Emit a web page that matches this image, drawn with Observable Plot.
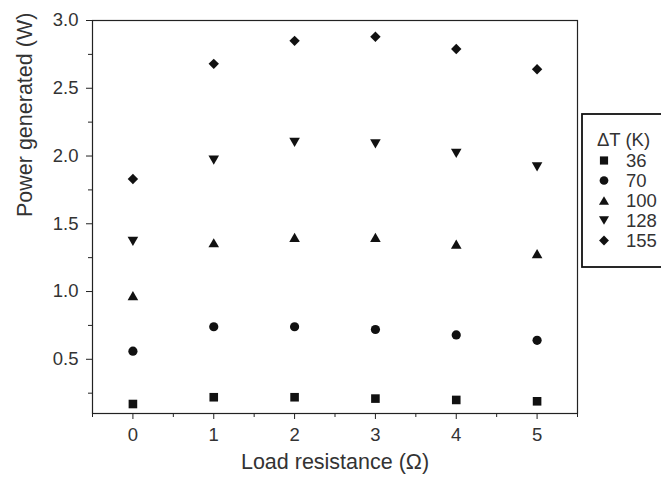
<!DOCTYPE html>
<html>
<head>
<meta charset="utf-8">
<script src="https://cdn.jsdelivr.net/npm/d3@7"></script>
<script src="https://cdn.jsdelivr.net/npm/@observablehq/plot@0.6"></script>
<style>
  html, body { margin: 0; padding: 0; background: #fff; }
</style>
</head>
<body>
<div id="chart"></div>
<script>
// ---- data ----
const loadResistance = [0, 1, 2, 3, 4, 5];
const dT36  = [0.17, 0.22, 0.22, 0.21, 0.20, 0.19];
const dT70  = [0.56, 0.74, 0.74, 0.72, 0.68, 0.64];
const dT100 = [0.97, 1.36, 1.40, 1.40, 1.35, 1.28];
const dT128 = [1.37, 1.97, 2.10, 2.09, 2.02, 1.92];
const dT155 = [1.83, 2.68, 2.85, 2.88, 2.79, 2.64];
const seriesLabels = ["36", "70", "100", "128", "155"];
const legendTitle = "\u0394T (K)";
const xTicks = [0, 1, 2, 3, 4, 5];
const xMinorTicks = [-0.5, 0.5, 1.5, 2.5, 3.5, 4.5, 5.5];
const yTicks = [0.5, 1.0, 1.5, 2.0, 2.5, 3.0];
const yMinorTicks = [0.25, 0.75, 1.25, 1.75, 2.25, 2.75];
const xLabel = "Load resistance (\u03A9)";
const yLabel = "Power generated (W)";

// ---- symbols ----
const symSquare = {draw(c) { const h = 4.3; c.moveTo(-h, -h); c.lineTo(h, -h); c.lineTo(h, h); c.lineTo(-h, h); c.closePath(); }};
const symCircle = {draw(c) { const r = 4.6; c.moveTo(r, 0); c.arc(0, 0, r, 0, 2 * Math.PI); }};
const symTriUp = {draw(c) { const w = 5.3, h = 4.6; c.moveTo(0, -h); c.lineTo(w, h); c.lineTo(-w, h); c.closePath(); }};
const symTriDown = {draw(c) { const w = 5.3, h = 4.6; c.moveTo(0, h); c.lineTo(w, -h); c.lineTo(-w, -h); c.closePath(); }};
const symDiamond = {draw(c) { const d = 5.2; c.moveTo(0, -d); c.lineTo(d, 0); c.lineTo(0, d); c.lineTo(-d, 0); c.closePath(); }};

const seriesValues = [dT36, dT70, dT100, dT128, dT155];
const seriesSymbols = [symSquare, symCircle, symTriUp, symTriDown, symDiamond];

const ink = "#111";
const textColor = "#333";

const dotMarks = seriesValues.map((vals, k) =>
  Plot.dot(loadResistance.map((x, i) => ({x, y: vals[i]})), {
    x: "x", y: "y", symbol: seriesSymbols[k], r: 4.5, fill: ink, stroke: "none"
  })
);

const svg = Plot.plot({
  width: 661,
  height: 482,
  marginLeft: 92,
  marginRight: 84,
  marginTop: 20,
  marginBottom: 69,
  style: {fontFamily: "'Liberation Sans', Arial, Helvetica, sans-serif", color: textColor, background: "#fff", overflow: "visible"},
  x: {domain: [-0.5, 5.5]},
  y: {domain: [0.1, 3.0]},
  marks: [
    Plot.frame({stroke: "#222", strokeWidth: 1.2}),
    Plot.axisX({ticks: xTicks, tickSize: 6, tickPadding: 8, fontSize: 18.5, label: null, tickFormat: d3.format("d"), stroke: "#222"}),
    Plot.axisX({ticks: xMinorTicks, tickSize: 4, label: null, tickFormat: () => "", stroke: "#222"}),
    Plot.axisY({ticks: yTicks, tickSize: 6, tickPadding: 8, fontSize: 18.5, label: null, tickFormat: d3.format(".1f"), stroke: "#222"}),
    Plot.axisY({ticks: yMinorTicks, tickSize: 4, label: null, tickFormat: () => "", stroke: "#222"}),
    Plot.text([xLabel], {frameAnchor: "bottom", dy: 55, fontSize: 21.5, fill: textColor}),
    Plot.text([yLabel], {frameAnchor: "left", dx: -67, rotate: -90, fontSize: 21.5, fill: textColor}),
    ...dotMarks
  ]
});

// ---- legend (drawn in the right margin) ----
const lg = d3.select(svg).append("g")
  .attr("font-family", "'Liberation Sans', Arial, Helvetica, sans-serif")
  .attr("font-size", 18.5)
  .attr("text-anchor", "start");
lg.append("rect")
  .attr("x", 582).attr("y", 114).attr("width", 90).attr("height", 153)
  .attr("fill", "#fff").attr("stroke", "#111").attr("stroke-width", 1.8);
lg.append("text").attr("x", 597).attr("y", 140).attr("dy", "0.35em")
  .attr("fill", textColor).text(legendTitle);
seriesLabels.forEach((lab, k) => {
  const cy = 160.5 + k * 20;
  lg.append("path")
    .attr("transform", `translate(604,${cy}) scale(0.95)`)
    .attr("d", d3.symbol(seriesSymbols[k], 64)())
    .attr("fill", ink);
  lg.append("text").attr("x", 626).attr("y", cy).attr("dy", "0.35em")
    .attr("fill", textColor).text(lab);
});

document.getElementById("chart").appendChild(svg);
</script>
</body>
</html>
